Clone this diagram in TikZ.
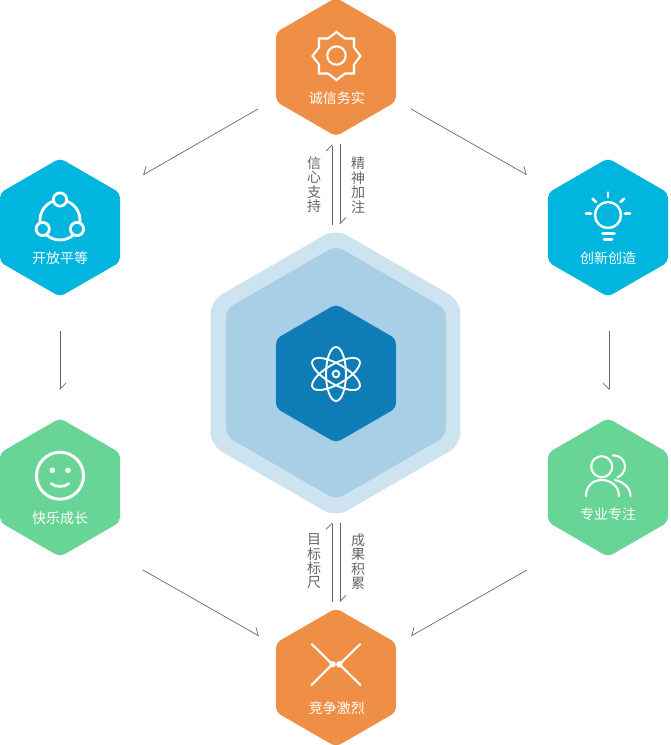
\documentclass[tikz,border=0pt]{standalone}
\usepackage{fontspec}
\newfontfamily\cjk{Noto Sans CJK SC}
\usetikzlibrary{positioning, shapes.geometric, arrows.meta}
\definecolor{warmfill}{HTML}{EF8F46}
\definecolor{skyfill}{HTML}{00B5DE}
\definecolor{leaffill}{HTML}{68D496}
\definecolor{corefill}{HTML}{0E7DB7}
\definecolor{midfill}{HTML}{A8CFE5}
\definecolor{outerfill}{HTML}{CEE3F0}
\definecolor{linegray}{HTML}{666666}

\begin{document}
\begin{tikzpicture}[
		x=1pt, y=-1pt, on grid,
		hexa/.style={regular polygon, regular polygon sides=6, shape border rotate=30, inner sep=0pt, outer sep=0pt, minimum size=138.6pt, rounded corners=5pt},
		hexlabel/.style={text=white, font=\cjk\fontsize{14}{14}\selectfont, yshift=-30.5pt},
		sidetext/.style={text=linegray, align=center, inner sep=0pt, font=\cjk\fontsize{14}{14.4}\selectfont},
		arrow/.style={-{Straight Barb[left, length=6pt, width=12pt]}, draw=linegray, line width=0.7pt},
		arrowr/.style={-{Straight Barb[right, length=6pt, width=12pt]}, draw=linegray, line width=0.7pt},
		icon/.style={draw=white, line width=2.1pt, line cap=round, line join=miter}
		]
		\useasboundingbox (0,0) rectangle (670,745);

		% Central hexagons
		\node[hexa, minimum size=288.6pt, rounded corners=13pt, fill=outerfill] (outerhex) at (335.5,373) {};
		\node[hexa, minimum size=254pt, rounded corners=8pt, fill=midfill] (midhex) at (336,372.7) {};
		\node[hexa, fill=corefill] (core) at (336,373.5) {};

		% Ring of hexagons
		\node[hexa, fill=warmfill, above=306.5pt of core, label={[hexlabel, xshift=0.8pt, yshift=-0.5pt]center:诚信务实}] (trust) {};
		\node[hexa, fill=skyfill, above left=146pt and 276pt of core, label={[hexlabel]center:开放平等}] (open) {};
		\node[hexa, fill=skyfill, above right=146pt and 272pt of core, label={[hexlabel]center:创新创造}] (create) {};
		\node[hexa, fill=leaffill, below left=114pt and 276pt of core, label={[hexlabel]center:快乐成长}] (happy) {};
		\node[hexa, fill=leaffill, below right=114pt and 272pt of core, label={[hexlabel, yshift=3.5pt]center:专业专注}] (focus) {};
		\node[hexa, fill=warmfill, below=304pt of core, label={[hexlabel, xshift=0.8pt]center:竞争激烈}] (compete) {};

		% Connectors
		\draw[arrowr, shorten <=89.9pt, shorten >=95.7pt] ([yshift=2.8pt]trust.center) -- ([yshift=4.9pt]open.center);
		\draw[arrow, shorten <=86.3pt, shorten >=93.2pt] ([yshift=0.7pt]trust.center) -- ([yshift=6.5pt]create.center);
		\draw[arrow, shorten <=36pt, shorten >=30pt] ([yshift=-67.5pt]open.center) -- ([yshift=67.5pt]happy.center);
		\draw[arrowr, shorten <=36pt, shorten >=30pt] ([xshift=1pt, yshift=-67.5pt]create.center) -- ([xshift=1pt, yshift=67.5pt]focus.center);
		\draw[arrow, shorten <=95.5pt, shorten >=88.6pt] ([yshift=-35.3pt]happy.center) -- ([yshift=-2.3pt]compete.center);
		\draw[arrowr, shorten <=93.2pt, shorten >=86.3pt] ([yshift=-36.4pt]focus.center) -- ([yshift=-1.2pt]compete.center);
		\draw[arrow, shorten <=9pt, shorten >=8pt] ([xshift=-4pt, yshift=140pt]core.center) -- ([xshift=-4pt]trust.south);
		\draw[arrow, shorten <=8pt, shorten >=9pt] ([xshift=4pt]trust.south) -- ([xshift=4pt, yshift=140pt]core.center);
		\draw[arrow, shorten <=6pt, shorten >=9pt] ([xshift=-4pt]compete.north) -- ([xshift=-4pt, yshift=-140pt]core.center);
		\draw[arrow, shorten <=9pt, shorten >=6pt] ([xshift=4pt, yshift=-140pt]core.center) -- ([xshift=4pt]compete.north);

		% Connector labels
		\node[sidetext] (support) at (314,184.5) {信\\心\\支\\持};
		\node[sidetext] (spirit) at (358,185) {精\\神\\加\\注};
		\node[sidetext] (target) at (314,561.5) {目\\标\\标\\尺};
		\node[sidetext] (result) at (358,561.5) {成\\果\\积\\累};

		% Icon: badge
		\draw[icon] (336.5,32) -- (345,38.5) -- (354,38.5) -- (354,47.5) -- (360.5,56) -- (354,64.5) -- (354,73.5) -- (345,73.5) -- (336.5,80) -- (328,73.5) -- (319,73.5) -- (319,64.5) -- (312.5,56) -- (319,47.5) -- (319,38.5) -- (328,38.5) -- cycle;
		\draw[icon] (336.5,55.5) circle (9.2pt);

		% Icon: three linked circles
		\draw[icon, line width=2.8pt] (60,220) circle (20pt);
		\foreach \x/\y in {60/199.5, 42.7/229, 77/229}
			\draw[icon, line width=2.8pt, fill=skyfill] (\x,\y) circle (6.6pt);

		% Icon: bulb
		\draw[icon, line width=2.4pt] (608,215) circle (13pt);
		\foreach \xa/\ya/\xb/\yb in {608/192.5/608/197, 586/213.5/591/213.5, 625/213.5/630/213.5, 592.5/198.8/596/202, 624/198.8/620.5/202, 602.5/233.5/614.5/233.5, 604/239.5/612/239.5}
			\draw[icon, line width=2.6pt] (\xa,\ya) -- (\xb,\yb);

		% Icon: smile
		\draw[icon, line width=3pt] (60,475.7) circle (23.5pt);
		\fill[white] (52.3,470.3) circle (2.8pt) (68,470.3) circle (2.8pt);
		\draw[icon, line width=2.6pt] (51,483.5) .. controls (56,487.5) and (64,487.5) .. (69,483.5);

		% Icon: two people
		\draw[icon] (601.7,466.7) circle (10.5pt);
		\draw[icon] (586,496) .. controls (586,486) and (593,480) .. (601.7,480) .. controls (610.5,480) and (619,486) .. (619,496);
		\draw[icon] (612.7,455.5) .. controls (620,455) and (625,460) .. (625,466.5) .. controls (625,471) and (622,475.5) .. (617.5,477.5);
		\draw[icon] (615,480) .. controls (624,482) and (630.5,488) .. (630.5,496);

		% Icon: atom
		\foreach \a in {0,60,120}
			\draw[icon, line width=1.9pt, rotate around={\a:(336,374)}] (336,374) ellipse [x radius=10pt, y radius=27pt];
		\draw[icon, line width=2pt] (336,374) circle (3.3pt);

		% Icon: crossing lines
		\draw[icon, line join=round] (311.7,644) -- (332.3,664.3) -- (311.7,685);
		\draw[icon, line join=round] (360.3,644) -- (339.5,664.3) -- (360.3,685);
		\fill[white] (332.7,664.3) circle (3.2pt) (339.3,664.3) circle (3.2pt);
	\end{tikzpicture}
\end{document}
